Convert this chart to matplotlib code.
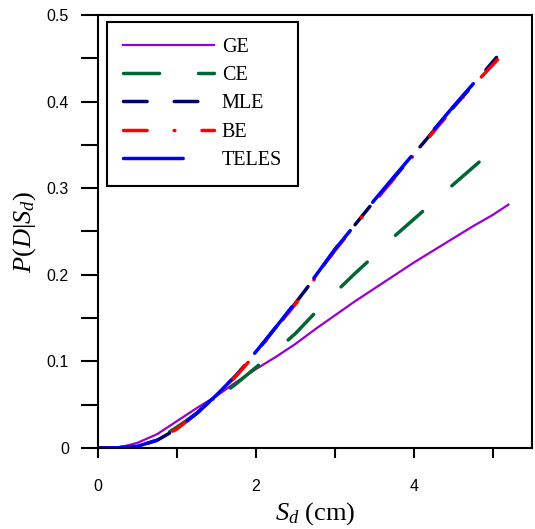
import matplotlib
matplotlib.use("Agg")
import matplotlib.pyplot as plt
from matplotlib.ticker import MultipleLocator

# Werte
x_ge = [0, 0.25, 0.4, 0.5, 0.6, 0.75, 0.9, 1.0, 1.25, 1.5, 1.75, 2.0, 2.25,
        2.5, 2.75, 3.0, 3.25, 3.5, 3.75, 4.0, 4.25, 4.5, 4.75, 5.0, 5.2]
y_ge = [0, 0.0005, 0.0035, 0.006, 0.010, 0.016, 0.025, 0.031, 0.046, 0.060,
        0.076, 0.091, 0.105, 0.120, 0.137, 0.153, 0.169, 0.184, 0.199, 0.214,
        0.228, 0.242, 0.256, 0.269, 0.281]

x_ce = [0, 0.25, 0.5, 0.75, 1.0, 1.25, 1.5, 1.75, 2.0, 2.25, 2.5, 2.75, 3.0,
        3.25, 3.5, 3.75, 4.0, 4.25, 4.5, 4.84]
y_ce = [0, 0.0002, 0.002, 0.010, 0.024, 0.040, 0.057, 0.074, 0.093, 0.112,
        0.132, 0.156, 0.179, 0.201, 0.222, 0.244, 0.264, 0.284, 0.304, 0.331]

x_mle = [0, 0.25, 0.5, 0.75, 1.0, 1.25, 1.5, 1.75, 2.0, 2.25, 2.5, 2.75, 3.0,
         3.25, 3.5, 3.75, 4.0, 4.25, 4.5, 4.75, 5.05]
y_mle = [0, 0.0002, 0.002, 0.009, 0.022, 0.040, 0.061, 0.084, 0.110, 0.139,
         0.167, 0.197, 0.229, 0.257, 0.285, 0.312, 0.339, 0.366, 0.393, 0.419,
         0.451]

x_be = [0, 0.25, 0.5, 0.75, 1.0, 1.25, 1.5, 1.75, 2.0, 2.25, 2.5, 2.75, 3.0,
        3.25, 3.5, 3.75, 4.0, 4.25, 4.5, 4.75, 5.08]
y_be = [0, 0.0002, 0.002, 0.009, 0.022, 0.040, 0.060, 0.083, 0.109, 0.138,
        0.166, 0.196, 0.228, 0.256, 0.284, 0.311, 0.338, 0.365, 0.392, 0.418,
        0.450]

x_teles = [0, 0.25, 0.5, 0.75, 1.0, 1.25, 1.5, 1.75, 2.0, 2.25, 2.5, 2.75,
           3.0, 3.25, 3.5, 3.75, 4.0, 4.25, 4.5, 4.75, 5.04]
y_teles = [0, 0.0002, 0.002, 0.009, 0.022, 0.040, 0.061, 0.084, 0.111, 0.139,
           0.168, 0.198, 0.229, 0.257, 0.286, 0.313, 0.340, 0.367, 0.394,
           0.420, 0.451]

plt.rcParams['lines.scale_dashes'] = False
plt.rcParams['mathtext.fontset'] = 'custom'
plt.rcParams['mathtext.rm'] = 'Liberation Serif'
plt.rcParams['mathtext.it'] = 'Liberation Serif:italic'

fig = plt.figure(figsize=(5.35, 5.29), dpi=100)
ax = fig.add_axes([98 / 535, 1 - 448 / 529, 434 / 535, 433 / 529])

lw = 2.5
kw = dict(lw=lw, dash_capstyle='round', solid_capstyle='round')
ax.plot(x_ge, y_ge, color='#9900cc', lw=1.6, label='GE')
ax.plot(x_ce, y_ce, color='#006633', dashes=(26, 28), label='CE', **kw)
ax.plot(x_mle, y_mle, color='#000066', dashes=(17, 19.5), label='MLE', **kw)
ax.plot(x_be, y_be, color='#ff0000', dashes=(17, 19.5, 0.5, 19.5),
        label='BE', **kw)
ax.plot(x_teles, y_teles, color='#0000ff', dashes=(43, 26),
        label='TELES', **kw)

ax.set_xlim(0, 5.5)
ax.set_ylim(0, 0.5)
ax.xaxis.set_major_locator(MultipleLocator(2))
ax.xaxis.set_minor_locator(MultipleLocator(1))
ax.yaxis.set_major_locator(MultipleLocator(0.1))
ax.yaxis.set_minor_locator(MultipleLocator(0.05))
ax.xaxis.set_major_formatter(plt.FuncFormatter(lambda v, p: '%g' % v))
ax.yaxis.set_major_formatter(plt.FuncFormatter(lambda v, p: '%g' % v))

for s in ax.spines.values():
    s.set_linewidth(1.5)
ax.tick_params(axis='x', which='both', direction='out', length=7, width=1.5,
               pad=15, labelsize=11.5)
ax.tick_params(axis='y', which='both', direction='out', length=12, width=1.5,
               pad=9, labelsize=11.5)
for lab in ax.get_xticklabels() + ax.get_yticklabels():
    lab.set_fontfamily('Liberation Sans')

ax.set_xlabel(r'$S_d$ (cm)', fontfamily='Liberation Serif', fontsize=19,
              labelpad=5)
ax.set_ylabel(r'$P(D|S_d)$', fontsize=19, labelpad=6)

leg = ax.legend(loc='upper left', bbox_to_anchor=(0.021, 0.984),
                borderaxespad=0,
                prop={'family': 'Liberation Serif', 'size': 14.5},
                handlelength=4.5, handletextpad=0.4, labelspacing=0.45,
                borderpad=0.8, fancybox=False, framealpha=1)
leg.get_frame().set_edgecolor('black')
leg.get_frame().set_linewidth(1.5)

fig.savefig('out.png', dpi=100)
